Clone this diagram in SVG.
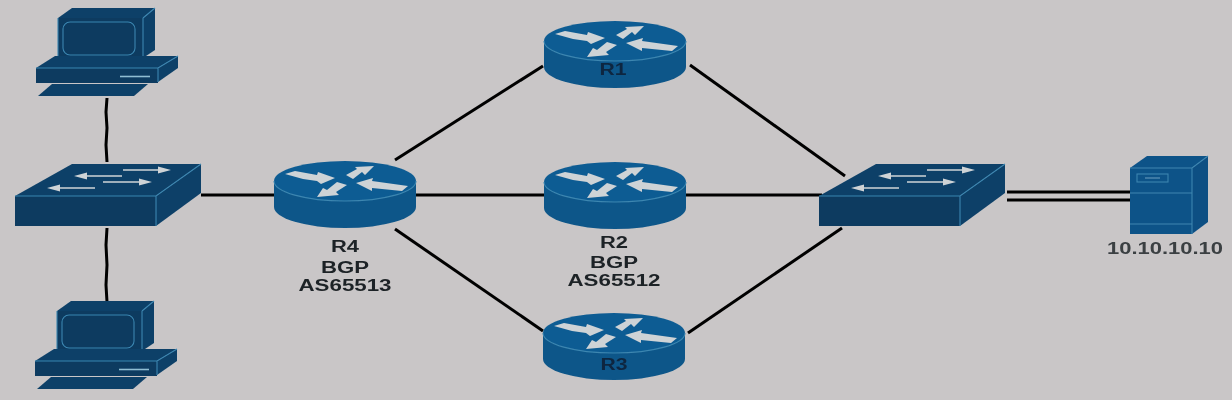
<svg xmlns="http://www.w3.org/2000/svg" width="1232" height="400" viewBox="0 0 1232 400">
<style>
.ln{stroke:#000;stroke-width:3;fill:none;stroke-linecap:butt}
.dk{fill:#0d4068}.fr{fill:#0b3a60}.sd{fill:#0d4068}
.hl{fill:none;stroke:#3c86b0;stroke-width:1.100}
.ar{fill:#ced3d6}
.rf{fill:#0f5c93}.rs{fill:#0e5689}
.sv{fill:#0f5288}.svs{fill:#0f4f83}
.lb{font-family:"Liberation Sans",Arial,sans-serif;font-size:16px;font-weight:700;fill:#1c2125;text-anchor:middle}
.lt{font-family:"Liberation Sans",Arial,sans-serif;font-size:16px;font-weight:700;fill:#3a3f43;text-anchor:middle}
</style>
<defs>
<filter id="soft" x="-2%" y="-2%" width="104%" height="104%"><feGaussianBlur stdDeviation="0.75"/></filter>
<g id="pc">
<polygon class="dk" points="58,18 72,8 155,8 143,18"/>
<polygon class="fr" points="58,18 143,18 143,58 58,58"/>
<polygon class="sd" points="143,18 155,8 155,50 143,58"/>
<rect class="hl" x="63" y="22" width="72" height="33" rx="7"/>
<path class="hl" d="M58,18V58M143,18L155,8M143,18V58"/>
<polygon class="dk" points="36,68 55,56 178,56 158,68"/>
<polygon class="fr" points="36,68 158,68 158,83 36,83"/>
<polygon class="sd" points="158,68 178,56 178,68 158,82"/>
<path class="hl" d="M36,68H158L178,56M158,68V82"/>
<line x1="120" y1="76.500" x2="150" y2="76.500" stroke="#8fbdd2" stroke-width="1.600"/>
<polygon class="dk" points="38,96 52,84 148,84 134,96"/>
</g>
<g id="sw">
<polygon class="dk" points="15,196 72,164 201,164 156,196"/>
<polygon class="fr" points="15,196 156,196 156,226 15,226"/>
<polygon class="sd" points="156,196 201,164 201,193 156,226"/>
<path class="hl" d="M15,196H156L201,164M156,196V226"/>
<path class="ar" d="M123,169.300H158V166.500L171,170L158,173.500V170.700H123Z"/>
<path class="ar" d="M122,175.300H87V172.500L74,176L87,179.500V176.700H122Z"/>
<path class="ar" d="M103,181.300H139V178.500L152,182L139,185.500V182.700H103Z"/>
<path class="ar" d="M95,187.300H60V184.500L47,188L60,191.500V188.700H95Z"/>
</g>
<g id="rt">
<path class="rs" d="M-71,0V26A71,21 0 0 0 71,26V0Z"/>
<ellipse class="rf" cx="0" cy="0" rx="71" ry="20"/>
<path class="hl" d="M-71,0A71,20 0 0 0 71,0"/>
<polygon class="ar" points="-60,-7 -50,-10 -28,-6 -27,-9 -10,-3 -24,3 -28,0 -42,-2"/>
<polygon class="ar" points="1,-6 12,-12 10,-14 29,-15 20,-6 17,-9 8,-2"/>
<polygon class="ar" points="2,4 -9,11 -6,14 -28,16 -22,7 -18,9 -8,1"/>
<polygon class="ar" points="11,2 28,-3 27,0 63,5 57,10 27,7 27,10"/>
</g>
</defs>
<rect width="1232" height="400" fill="#c9c6c7"/>
<g filter="url(#soft)">
<g id="connectors">
<path class="ln" d="M107,98L106,112L107,128L106,145L107,162"/>
<path class="ln" d="M107,228L106,245L107,265L106,285L107,302"/>
<line class="ln" x1="201" y1="195" x2="275" y2="195"/>
<line class="ln" x1="415" y1="195" x2="545" y2="195"/>
<line class="ln" x1="395" y1="160" x2="543" y2="66"/>
<line class="ln" x1="395" y1="229" x2="543" y2="331"/>
<line class="ln" x1="690" y1="65" x2="845" y2="176"/>
<line class="ln" x1="685" y1="195" x2="822" y2="195"/>
<line class="ln" x1="688" y1="333" x2="842" y2="228"/>
<line class="ln" x1="1007" y1="192" x2="1131" y2="192"/>
<line class="ln" x1="1007" y1="200" x2="1131" y2="200"/>
</g>
<g id="pc1"><use href="#pc"/></g>
<g id="pc2"><use href="#pc" x="-1" y="293"/></g>
<g id="sw1"><use href="#sw"/></g>
<g id="sw2"><use href="#sw" x="804"/></g>
<g id="r4"><use href="#rt" x="345" y="181"/>
<text class="lb" x="345" y="252" textLength="28" lengthAdjust="spacingAndGlyphs">R4</text>
<text class="lb" x="345" y="273" textLength="48" lengthAdjust="spacingAndGlyphs">BGP</text>
<text class="lb" x="345" y="291" textLength="93" lengthAdjust="spacingAndGlyphs">AS65513</text></g>
<g id="r1"><use href="#rt" x="615" y="41"/>
<text class="lb" x="613" y="75" textLength="27" lengthAdjust="spacingAndGlyphs" style="fill:#0a2640">R1</text></g>
<g id="r2"><use href="#rt" x="615" y="182"/>
<text class="lb" x="614" y="248" textLength="28" lengthAdjust="spacingAndGlyphs">R2</text>
<text class="lb" x="614" y="268" textLength="48" lengthAdjust="spacingAndGlyphs">BGP</text>
<text class="lb" x="614" y="286" textLength="93" lengthAdjust="spacingAndGlyphs">AS65512</text></g>
<g id="r3"><use href="#rt" x="614" y="333"/>
<text class="lb" x="614" y="370" textLength="27" lengthAdjust="spacingAndGlyphs" style="fill:#0a2640">R3</text></g>
<g id="server">
<polygon class="sv" points="1130,168 1147,156 1208,156 1192,168"/>
<polygon class="sv" points="1130,168 1192,168 1192,234 1130,234"/>
<polygon class="svs" points="1192,168 1208,156 1208,222 1192,234"/>
<path class="hl" d="M1130,168H1192L1208,156M1192,168V234M1130,193H1192M1130,224H1192"/>
<rect class="hl" x="1137" y="174" width="31" height="8"/>
<line x1="1145" y1="178" x2="1160" y2="178" stroke="#6aa0c0" stroke-width="1"/>
<text class="lt" x="1165" y="254" textLength="116" lengthAdjust="spacingAndGlyphs">10.10.10.10</text></g>
</g>
</svg>
